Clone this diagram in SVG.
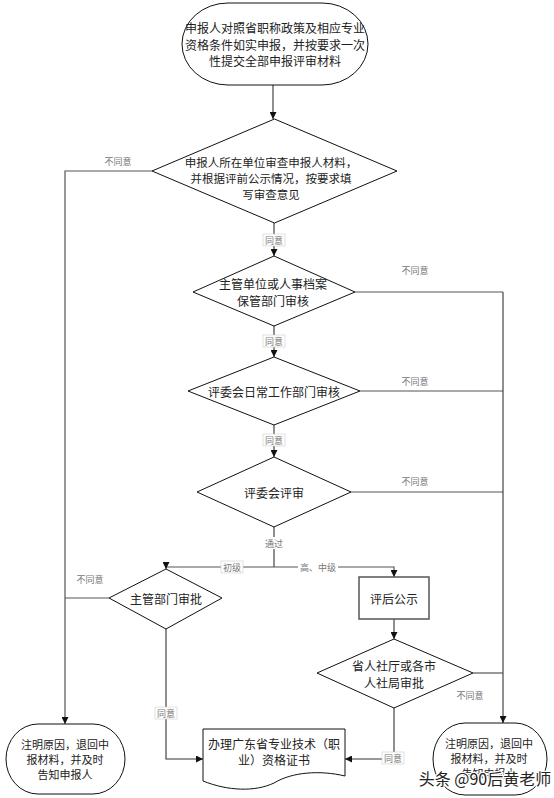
<svg xmlns="http://www.w3.org/2000/svg" width="554" height="798" viewBox="0 0 554 798">
<defs>
<marker id="arr" viewBox="0 0 10 10" refX="10" refY="5" markerWidth="7" markerHeight="7" orient="auto" markerUnits="userSpaceOnUse">
<path d="M0,0 L10,5 L0,10 Z" fill="#111"/>
</marker>
<style>
.shape{fill:#fff;stroke:#111;stroke-width:1}
.t{font-family:"Noto Sans CJK SC","Noto Sans CJK JP",sans-serif;font-size:12px;fill:#222;text-anchor:middle;dominant-baseline:central}
.s{font-size:11px}
.lbl{font-family:"Noto Sans CJK SC","Noto Sans CJK JP",sans-serif;font-size:9px;fill:#777;text-anchor:middle;dominant-baseline:central}
.lb{fill:#fff;stroke:#ccc;stroke-width:0.6}
.c{fill:none;stroke:#333;stroke-width:1.1}
.g{fill:none;stroke:#555;stroke-width:1.2}
</style>
</defs>
<rect width="554" height="798" fill="#fff"/>

<g id="connectors">
<path class="c" d="M273,85 V119" marker-end="url(#arr)"/>
<path class="g" d="M152,171 H65 V724" marker-end="url(#arr)"/>
<path class="c" d="M274,223 V256" marker-end="url(#arr)"/>
<path class="g" d="M355,292 H503"/>
<path class="c" d="M274,326 V357" marker-end="url(#arr)"/>
<path class="g" d="M360,391 H503"/>
<path class="c" d="M274,425 V457" marker-end="url(#arr)"/>
<path class="g" d="M351,492 H503"/>
<path class="c" d="M503,292 V723" marker-end="url(#arr)"/>
<path class="c" d="M274,527 V567"/>
<path class="g" d="M274,567 H166 V569" marker-end="url(#arr)"/>
<path class="g" d="M274,567 H394 V577" marker-end="url(#arr)"/>
<path class="c" d="M394,619 V639" marker-end="url(#arr)"/>
<path class="g" d="M473,673 H503"/>
<path class="g" d="M109,598 H65"/>
<path class="c" d="M166,629 V759 H203" marker-end="url(#arr)"/>
<path class="c" d="M394,708 V759 H345" marker-end="url(#arr)"/>
</g>

<g id="labels">
<text class="lbl" x="118" y="161">不同意</text>
<rect class="lb" x="263" y="234" width="22" height="12"/>
<text class="lbl" x="274" y="240">同意</text>
<text class="lbl" x="415" y="270">不同意</text>
<rect class="lb" x="263" y="335" width="22" height="12"/>
<text class="lbl" x="274" y="341">同意</text>
<text class="lbl" x="415" y="381">不同意</text>
<rect class="lb" x="263" y="434" width="22" height="12"/>
<text class="lbl" x="274" y="440">同意</text>
<text class="lbl" x="415" y="481">不同意</text>
<rect x="263" y="537" width="22" height="12" fill="#fff"/>
<text class="lbl" x="274" y="543">通过</text>
<rect class="lb" x="221" y="561" width="22" height="12"/>
<text class="lbl" x="232" y="567">初级</text>
<rect x="298" y="561" width="40" height="12" fill="#fff"/>
<text class="lbl" x="318" y="567">高、中级</text>
<text class="lbl" x="90" y="579">不同意</text>
<text class="lbl" x="470" y="695">不同意</text>
<rect class="lb" x="155" y="707" width="22" height="12"/>
<text class="lbl" x="166" y="713">同意</text>
<rect class="lb" x="382" y="752" width="22" height="12"/>
<text class="lbl" x="393" y="758">同意</text>
</g>

<g id="start">
<rect class="shape" x="182" y="3" width="186" height="82" rx="46" ry="41"/>
<text class="t" x="275" y="27">申报人对照省职称政策及相应专业</text>
<text class="t" x="275" y="44">资格条件如实申报，并按要求一次</text>
<text class="t" x="275" y="60">性提交全部申报评审材料</text>
</g>

<g id="d1">
<polygon class="shape" points="274.5,119 397,171 274.5,223 152,171"/>
<text class="t" x="271" y="162" style="font-size:11.5px">申报人所在单位审查申报人材料，</text>
<text class="t" x="271" y="178" style="font-size:11.5px">并根据评前公示情况，按要求填</text>
<text class="t" x="271" y="194" style="font-size:11.5px">写审查意见</text>
</g>

<g id="d2">
<polygon class="shape" points="274,256 355,292 274,326 193,292"/>
<text class="t" x="273" y="283">主管单位或人事档案</text>
<text class="t" x="273" y="300">保管部门审核</text>
</g>

<g id="d3">
<polygon class="shape" points="274,357 360,391 274,425 188,391"/>
<text class="t" x="274" y="391">评委会日常工作部门审核</text>
</g>

<g id="d4">
<polygon class="shape" points="274,457 351,492 274,527 197,492"/>
<text class="t" x="274" y="492">评委会评审</text>
</g>

<g id="d5">
<polygon class="shape" points="166,569 222,598 166,629 109,598"/>
<text class="t" x="166" y="598">主管部门审批</text>
</g>

<g id="publicity">
<rect x="359" y="577" width="70" height="42" fill="#fff" stroke="#555" stroke-width="1.5"/>
<text class="t" x="394" y="598">评后公示</text>
</g>

<g id="d6">
<polygon class="shape" points="394,639 473,673 394,708 317,673"/>
<text class="t" x="394" y="665">省人社厅或各市</text>
<text class="t" x="394" y="682">人社局审批</text>
</g>

<g id="cert">
<path class="shape" d="M203,729 H345 V776 C320,770 292,772 274,783 C255,792 228,791 203,781 Z"/>
<text class="t" x="274" y="743">办理广东省专业技术（职</text>
<text class="t" x="274" y="759">业）资格证书</text>
</g>

<g id="end-left">
<rect class="shape" x="6" y="724" width="119" height="70" rx="32" ry="35"/>
<text class="t s" x="65" y="744">注明原因，退回中</text>
<text class="t s" x="65" y="759">报材料，并及时</text>
<text class="t s" x="65" y="774">告知申报人</text>
</g>

<g id="end-right">
<rect class="shape" x="433" y="723" width="114" height="72" rx="32" ry="36"/>
<text class="t s" x="489" y="743">注明原因，退回中</text>
<text class="t s" x="489" y="758">报材料，并及时</text>
<text class="t s" x="489" y="773">告知申报人</text>
</g>

<text x="485" y="778" style="font-family:'Noto Sans CJK SC',sans-serif;font-size:16px;fill:#222;stroke:#fff;stroke-width:2.5;paint-order:stroke;text-anchor:middle;dominant-baseline:central">头条 @90后黄老师</text>
</svg>
